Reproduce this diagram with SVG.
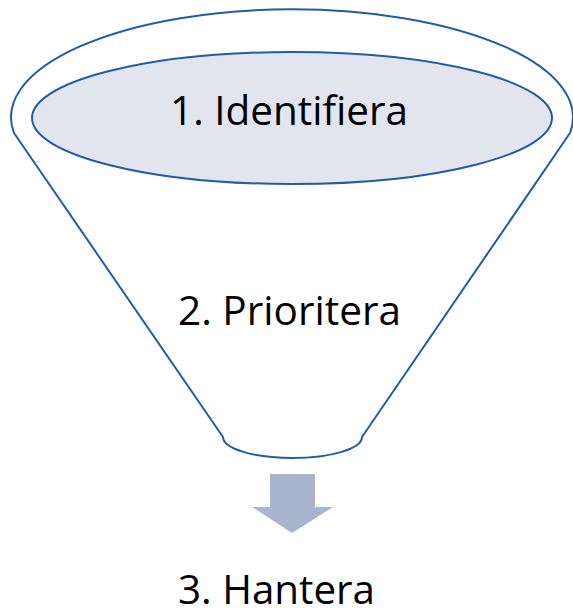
<svg xmlns="http://www.w3.org/2000/svg" width="573" height="608" viewBox="0 0 573 608">
  <style>
    .outline { fill: none; stroke: #1F5DA6; stroke-width: 2; stroke-linejoin: round; }
    .label { font-family: "Open Sans", "Liberation Sans", sans-serif; font-size: 41px; fill: #000; text-anchor: middle; }
  </style>
  <rect width="573" height="608" fill="#ffffff"/>

  <!-- funnel body: rim arc over the top, two sides, rounded spout -->
  <g id="funnel">
    <path class="outline" d="M 14 133 A 281 108 0 1 1 570 133 L 362 437 A 69.5 21 0 0 1 223 437 Z"/>
  </g>

  <!-- step 1: the funnel mouth -->
  <g id="identifiera">
    <ellipse cx="292" cy="118" rx="260" ry="66" fill="#E2E5EE" stroke="#1F5DA6" stroke-width="2"/>
    <text class="label" x="289" y="125" textLength="238" lengthAdjust="spacingAndGlyphs">1. Identifiera</text>
  </g>

  <!-- step 2: inside the funnel -->
  <g id="prioritera">
    <text class="label" x="289.5" y="325" textLength="223" lengthAdjust="spacingAndGlyphs">2. Prioritera</text>
  </g>

  <!-- connector: down arrow out of the spout -->
  <g id="connectors">
    <path d="M 270 474 L 315 474 L 315 507 L 333 507 L 292 533 L 252 507 L 270 507 Z" fill="#A9B4CF"/>
  </g>

  <!-- step 3: result -->
  <g id="hantera">
    <text class="label" x="276.5" y="604" textLength="197" lengthAdjust="spacingAndGlyphs">3. Hantera</text>
  </g>
</svg>
